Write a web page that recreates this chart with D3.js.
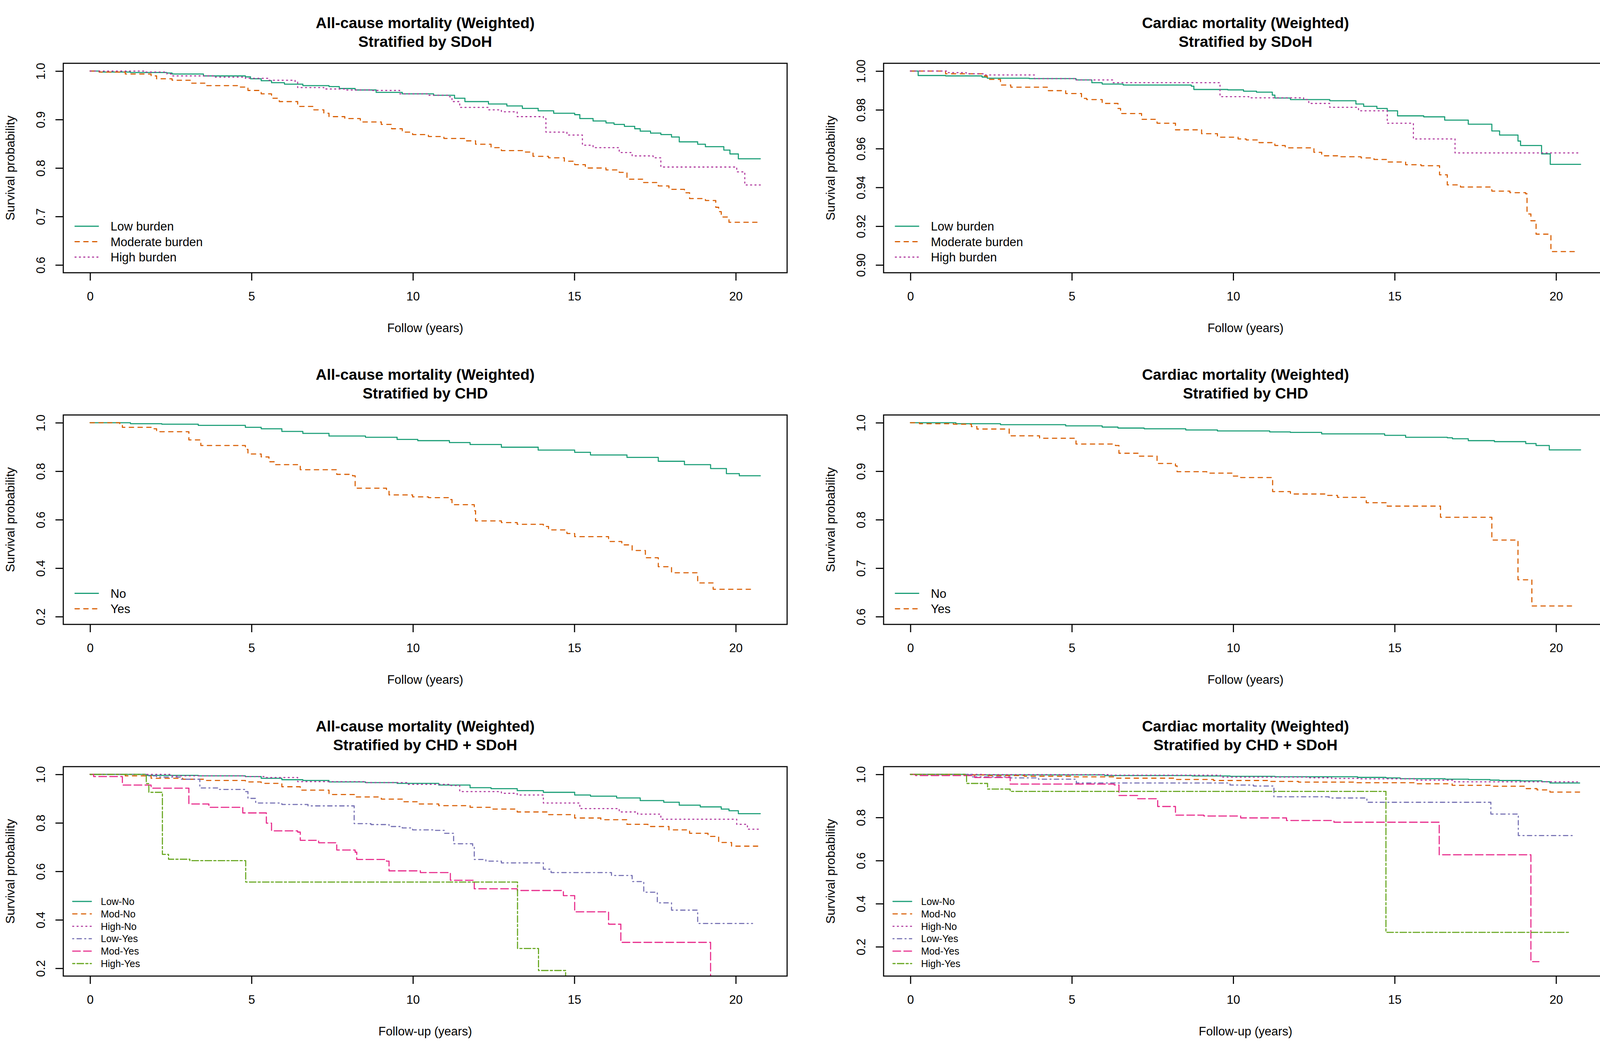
<!DOCTYPE html>
<html>
<head>
<meta charset="utf-8">
<title>Weighted Kaplan-Meier curves</title>
<script src="https://cdnjs.cloudflare.com/ajax/libs/d3/7.8.5/d3.min.js"></script>
<style>
  html, body { margin: 0; background: #fff; }
  svg text { font-family: "Liberation Sans", Arial, sans-serif; fill: #000; }
</style>
</head>
<body>
<svg id="chart" width="4200" height="2700"></svg>
<script>
// step points: [years, survival]
var acSdohLow = [[0,1],[0.28,0.998],[1.25,0.997],[2.38,0.996],[2.54,0.994],[3.51,0.990],[4.81,0.988],[4.97,0.984],[5.30,0.980],[5.62,0.976],[6.02,0.973],[6.59,0.970],[7.40,0.968],[7.72,0.964],[8.21,0.961],[8.86,0.956],[9.67,0.953],[10.64,0.950],[11.29,0.944],[11.61,0.937],[12.34,0.932],[12.91,0.928],[13.39,0.923],[13.88,0.918],[14.36,0.913],[15.01,0.910],[15.17,0.902],[15.58,0.897],[15.98,0.893],[16.23,0.890],[16.55,0.886],[16.87,0.881],[17.04,0.876],[17.36,0.872],[17.68,0.869],[18.01,0.864],[18.25,0.854],[18.82,0.849],[19.06,0.844],[19.63,0.837],[19.82,0.829],[20.08,0.819],[20.76,0.819]];
var acSdohMod = [[0,1],[0.28,0.998],[1.09,0.994],[1.89,0.990],[2.06,0.984],[2.54,0.981],[3.11,0.975],[3.60,0.970],[4.65,0.967],[4.89,0.960],[5.30,0.953],[5.62,0.944],[5.86,0.937],[6.43,0.927],[6.92,0.920],[7.24,0.913],[7.40,0.906],[7.89,0.902],[8.37,0.895],[9.02,0.890],[9.34,0.881],[9.67,0.874],[9.99,0.869],[10.48,0.865],[10.96,0.861],[11.61,0.856],[11.94,0.849],[12.42,0.842],[12.74,0.836],[13.47,0.833],[13.72,0.824],[14.20,0.821],[14.69,0.814],[15.01,0.807],[15.34,0.800],[15.98,0.796],[16.39,0.791],[16.63,0.777],[17.12,0.770],[17.60,0.763],[17.93,0.756],[18.41,0.749],[18.57,0.737],[19.06,0.733],[19.38,0.719],[19.47,0.710],[19.55,0.699],[19.79,0.688],[20.68,0.688]];
var acSdohHigh = [[0,1],[1.73,0.998],[2.38,0.994],[2.54,0.990],[3.84,0.9875],[4.81,0.985],[5.54,0.981],[6.35,0.978],[6.43,0.966],[7.24,0.963],[7.89,0.961],[8.70,0.960],[9.59,0.953],[10.48,0.950],[11.13,0.947],[11.21,0.937],[11.45,0.925],[12.34,0.920],[12.74,0.916],[13.23,0.906],[14.04,0.902],[14.12,0.874],[14.77,0.868],[15.25,0.847],[15.58,0.842],[16.39,0.832],[16.79,0.825],[17.44,0.821],[17.68,0.802],[20.03,0.792],[20.28,0.765],[20.76,0.765]];

var cdSdohLow = [[0,1],[0.24,0.9977],[1.09,0.9975],[2.22,0.9969],[2.38,0.9963],[3.68,0.9961],[5.13,0.9954],[5.62,0.9940],[5.94,0.9933],[6.59,0.9928],[8.70,0.9922],[8.78,0.9905],[9.83,0.9903],[10.32,0.9896],[10.72,0.9891],[11.21,0.9876],[11.29,0.9861],[11.77,0.9853],[12.99,0.9847],[13.80,0.9830],[14.04,0.9818],[14.45,0.9807],[14.77,0.9795],[15.09,0.9769],[15.90,0.9764],[16.55,0.9747],[17.28,0.9726],[18.01,0.9691],[18.25,0.9670],[18.82,0.9639],[18.90,0.9616],[19.55,0.9573],[19.82,0.9519],[20.76,0.9519]];
var cdSdohMod = [[0,1],[1.09,0.9986],[2.22,0.9975],[2.38,0.9957],[2.79,0.9928],[3.11,0.9917],[4.24,0.9899],[4.81,0.9884],[5.30,0.9859],[5.46,0.9853],[5.94,0.9833],[6.43,0.9807],[6.51,0.9781],[7.16,0.9751],[7.64,0.9731],[8.21,0.9697],[9.02,0.9677],[9.51,0.9659],[10.15,0.9650],[10.40,0.9645],[10.80,0.9631],[11.29,0.9616],[11.61,0.9604],[12.50,0.9581],[12.74,0.9563],[13.23,0.9558],[13.96,0.9552],[14.36,0.9544],[14.77,0.9531],[15.34,0.9517],[15.82,0.9512],[16.39,0.9465],[16.63,0.9413],[17.04,0.9402],[18.01,0.9381],[18.57,0.9373],[19.06,0.9367],[19.10,0.9263],[19.22,0.9228],[19.38,0.9159],[19.84,0.9069],[20.68,0.9069]];
var cdSdohHigh = [[0,1],[1.17,0.9992],[1.73,0.9986],[2.30,0.9980],[3.84,0.9961],[5.13,0.9954],[6.27,0.9940],[9.59,0.9868],[10.48,0.9862],[12.18,0.9853],[12.34,0.9833],[12.99,0.9813],[13.88,0.9795],[14.77,0.9731],[15.58,0.9650],[16.87,0.9578],[20.76,0.9578]];

var acChdNo = [[0,1],[1.25,0.996],[2.22,0.994],[3.35,0.989],[4.81,0.981],[5.30,0.975],[5.94,0.964],[6.59,0.956],[7.40,0.945],[8.53,0.940],[9.51,0.931],[10.15,0.926],[11.13,0.918],[11.77,0.910],[12.74,0.899],[13.88,0.887],[15.01,0.878],[15.50,0.867],[16.63,0.857],[17.60,0.841],[18.41,0.827],[19.22,0.811],[19.71,0.790],[20.11,0.781],[20.76,0.781]];
var acChdYes = [[0,1],[0.92,0.994],[1.00,0.981],[1.89,0.975],[2.06,0.963],[3.06,0.929],[3.43,0.906],[4.81,0.890],[4.89,0.871],[5.30,0.859],[5.54,0.839],[5.70,0.827],[6.51,0.806],[7.64,0.787],[8.13,0.781],[8.21,0.730],[9.18,0.723],[9.26,0.702],[9.99,0.694],[10.48,0.691],[11.13,0.683],[11.21,0.662],[11.90,0.637],[11.94,0.595],[12.74,0.588],[13.23,0.581],[14.04,0.572],[14.20,0.558],[14.77,0.543],[15.01,0.530],[16.06,0.510],[16.47,0.496],[16.79,0.473],[17.20,0.443],[17.60,0.406],[18.01,0.381],[18.82,0.339],[19.30,0.313],[20.52,0.313]];

var cdChdNo = [[0,1],[1.41,0.998],[2.79,0.996],[4.81,0.9935],[5.94,0.991],[6.43,0.989],[7.24,0.9875],[8.53,0.985],[9.51,0.983],[11.13,0.981],[11.77,0.980],[12.74,0.977],[14.69,0.974],[15.34,0.970],[16.63,0.969],[16.79,0.967],[17.28,0.963],[18.09,0.961],[19.06,0.957],[19.38,0.953],[19.79,0.944],[20.76,0.944]];
var cdChdYes = [[0,1],[0.28,0.998],[1.33,0.997],[1.89,0.992],[2.06,0.987],[3.06,0.973],[4.00,0.968],[5.13,0.956],[6.35,0.953],[6.46,0.937],[7.08,0.931],[7.64,0.916],[8.21,0.911],[8.26,0.899],[9.18,0.896],[9.99,0.890],[10.23,0.887],[11.22,0.858],[11.77,0.853],[12.91,0.850],[13.23,0.846],[14.12,0.835],[14.77,0.828],[16.42,0.805],[18.01,0.758],[18.82,0.676],[19.25,0.622],[20.60,0.622]];

var acLowNo = [[0,1],[1.73,0.996],[3.35,0.994],[4.81,0.991],[5.30,0.984],[5.94,0.978],[6.59,0.975],[7.40,0.969],[8.53,0.966],[9.51,0.963],[10.80,0.956],[11.77,0.945],[12.42,0.941],[13.23,0.933],[14.04,0.926],[15.01,0.915],[15.50,0.910],[16.31,0.903],[17.04,0.892],[17.77,0.885],[18.25,0.873],[18.90,0.866],[19.55,0.857],[19.79,0.850],[20.08,0.838],[20.76,0.838]];
var acModNo = [[0,1],[1.09,0.994],[1.89,0.984],[2.87,0.980],[3.51,0.975],[4.81,0.969],[5.30,0.963],[5.94,0.949],[6.51,0.935],[7.40,0.917],[8.21,0.907],[9.02,0.898],[9.67,0.887],[10.15,0.878],[10.80,0.871],[11.77,0.864],[12.42,0.857],[13.23,0.845],[14.20,0.834],[15.01,0.820],[15.82,0.813],[16.63,0.794],[17.28,0.785],[17.93,0.771],[18.57,0.757],[19.14,0.744],[19.47,0.719],[19.87,0.704],[20.76,0.704]];
var acHighNo = [[0,1],[2.54,0.994],[4.81,0.991],[5.46,0.987],[6.43,0.970],[8.53,0.966],[9.83,0.959],[11.13,0.954],[11.45,0.929],[12.74,0.922],[13.23,0.915],[14.04,0.882],[15.17,0.859],[16.39,0.845],[16.96,0.836],[17.68,0.815],[20.03,0.794],[20.36,0.774],[20.76,0.774]];
var acLowYes = [[0,1],[1.73,0.994],[2.06,0.989],[2.79,0.980],[3.40,0.944],[4.00,0.938],[4.81,0.929],[4.89,0.901],[5.13,0.882],[5.94,0.876],[6.75,0.870],[8.18,0.797],[8.70,0.793],[9.26,0.785],[9.67,0.779],[9.99,0.771],[10.64,0.769],[10.97,0.757],[11.26,0.714],[11.85,0.706],[11.90,0.649],[12.26,0.642],[12.74,0.635],[14.04,0.609],[14.28,0.595],[16.15,0.583],[16.79,0.558],[17.15,0.514],[17.57,0.470],[18.01,0.440],[18.82,0.385],[20.52,0.385]];
var acModYes = [[0,1],[0.11,0.991],[1.00,0.956],[1.89,0.943],[3.06,0.878],[3.68,0.864],[4.73,0.841],[5.46,0.799],[5.62,0.767],[6.43,0.762],[6.51,0.728],[7.08,0.718],[7.64,0.688],[8.21,0.679],[8.26,0.649],[9.18,0.642],[9.26,0.602],[10.23,0.595],[11.16,0.563],[11.90,0.528],[13.23,0.521],[14.66,0.500],[15.01,0.433],[16.06,0.382],[16.44,0.307],[19.22,0.131],[19.47,0.131]];
var acHighYes = [[0,1],[1.74,0.962],[1.82,0.926],[2.24,0.670],[2.43,0.650],[3.09,0.644],[4.82,0.556],[13.24,0.282],[13.89,0.191],[14.73,0.100],[20.44,0.100]];

var cdLowNo = [[0,1],[1.70,0.9976],[6.02,0.9946],[8.73,0.9927],[9.90,0.9909],[11.29,0.9891],[13.85,0.9861],[14.73,0.9837],[15.17,0.980],[16.56,0.9776],[17.29,0.9758],[17.95,0.9734],[18.24,0.9716],[18.90,0.970],[19.56,0.966],[19.81,0.960],[20.73,0.960]];
var cdModNo = [[0,1],[1.70,0.9976],[2.36,0.9946],[3.53,0.9915],[4.99,0.9885],[6.31,0.9825],[8.21,0.9764],[9.39,0.9716],[11.14,0.9673],[12.02,0.9643],[13.78,0.9613],[15.68,0.9564],[16.78,0.9492],[18.02,0.945],[19.05,0.934],[19.41,0.928],[19.81,0.918],[20.73,0.918]];
var cdHighNo = [[0,1],[2.28,0.9988],[6.16,0.9964],[9.60,0.9873],[12.31,0.9843],[13.05,0.9812],[13.92,0.9794],[15.61,0.9734],[16.85,0.9655],[20.66,0.9655]];
var cdLowYes = [[0,1],[1.92,0.9885],[3.09,0.9837],[3.97,0.9776],[5.14,0.960],[9.90,0.9504],[10.63,0.946],[11.26,0.896],[12.97,0.8905],[14.14,0.8705],[17.98,0.816],[18.83,0.716],[20.51,0.716]];
var cdModYes = [[0,1],[0.16,0.9946],[1.99,0.9855],[3.09,0.955],[6.31,0.951],[6.46,0.902],[7.04,0.887],[7.66,0.851],[8.21,0.811],[9.09,0.807],[10.23,0.798],[11.65,0.786],[13.12,0.778],[16.38,0.627],[19.22,0.131],[19.47,0.131]];
var cdHighYes = [[0,1],[1.74,0.958],[2.39,0.932],[3.09,0.921],[14.73,0.267],[20.44,0.267]];

var titleTop = ["All-cause mortality (Weighted)", "Cardiac mortality (Weighted)"];
var titleSub = ["Stratified by SDoH", "Stratified by CHD", "Stratified by CHD + SDoH"];
var xLabels = ["Follow (years)", "Follow (years)", "Follow-up (years)"];
var yLabel = "Survival probability";
var xTicks = [0, 5, 10, 15, 20];
var xMax = 20.76;
var yMins = [0.6, 0.9, 0.2, 0.6, 0.2, 0.1];
var yTicks = [
  [0.6, 0.7, 0.8, 0.9, 1.0],
  [0.90, 0.92, 0.94, 0.96, 0.98, 1.00],
  [0.2, 0.4, 0.6, 0.8, 1.0],
  [0.6, 0.7, 0.8, 0.9, 1.0],
  [0.2, 0.4, 0.6, 0.8, 1.0],
  [0.2, 0.4, 0.6, 0.8, 1.0]
];
var yDigits = [1, 2, 1, 1, 1, 1];
var sdohLabels = ["Low burden", "Moderate burden", "High burden"];
var chdLabels = ["No", "Yes"];
var comboLabels = ["Low-No", "Mod-No", "High-No", "Low-Yes", "Mod-Yes", "High-Yes"];

var panelSeries = [
  [acSdohLow, acSdohMod, acSdohHigh],
  [cdSdohLow, cdSdohMod, cdSdohHigh],
  [acChdNo, acChdYes],
  [cdChdNo, cdChdYes],
  [acLowNo, acModNo, acHighNo, acLowYes, acModYes, acHighYes],
  [cdLowNo, cdModNo, cdHighNo, cdLowYes, cdModYes, cdHighYes]
];
var panelLabels = [sdohLabels, sdohLabels, chdLabels, chdLabels, comboLabels, comboLabels];

// look
var colors = ["#1B9E77", "#D95F02", "#B0399E", "#7570B3", "#E7298A", "#66A61E"];
var ltys = ["solid", "dashed", "dotted", "dotdash", "longdash", "twodash"];
var dashUnits = {solid: null, dashed: [4,4], dotted: [1,3], dotdash: [1,3,4,3], longdash: [7,3], twodash: [2,2,6,2]};
var lwd = 2.8;
var panelW = 2100, panelH = 900;
var box = {left: 162, top: 162, width: 1853, height: 536};
var legendBig = {font: 31, gap: 39.5, bottom: 658, x0: 192, x1: 252, tx: 283};
var legendSmall = {font: 25, gap: 31.8, bottom: 666, x0: 186, x1: 234, tx: 258};

var svg = d3.select("#chart");

// R-style lty: dash lengths are multiples of the line width
function dash(lty) {
  var u = dashUnits[lty];
  return u ? u.map(function (v) { return v * lwd; }).join(",") : null;
}

panelSeries.forEach(function (series, i) {
  var col = i % 2, row = Math.floor(i / 2);
  var g = svg.append("g").attr("transform", "translate(" + (col * panelW) + "," + (row * panelH) + ")");

  // 4% padding on both axes, like R's default xaxs/yaxs
  var x = d3.scaleLinear()
    .domain([-0.04 * xMax, 1.04 * xMax])
    .range([box.left, box.left + box.width]);
  var span = 1 - yMins[i];
  var y = d3.scaleLinear()
    .domain([yMins[i] - 0.04 * span, 1 + 0.04 * span])
    .range([box.top + box.height, box.top]);

  // titles
  var cx = box.left + box.width / 2;
  g.append("text").attr("x", cx).attr("y", 72).attr("text-anchor", "middle")
    .style("font-size", "39px").style("font-weight", "bold").text(titleTop[col]);
  g.append("text").attr("x", cx).attr("y", 120).attr("text-anchor", "middle")
    .style("font-size", "39px").style("font-weight", "bold").text(titleSub[row]);

  // curves
  g.append("clipPath").attr("id", "clip" + i)
    .append("rect").attr("x", box.left).attr("y", box.top)
    .attr("width", box.width).attr("height", box.height);

  var line = d3.line()
    .x(function (d) { return x(d[0]); })
    .y(function (d) { return y(d[1]); })
    .curve(d3.curveStepAfter);

  g.append("g").attr("clip-path", "url(#clip" + i + ")")
    .selectAll("path").data(series).enter().append("path")
    .attr("d", line)
    .attr("fill", "none")
    .attr("stroke", function (d, j) { return colors[j]; })
    .attr("stroke-width", lwd)
    .attr("stroke-linecap", "round")
    .attr("stroke-linejoin", "round")
    .attr("stroke-dasharray", function (d, j) { return dash(ltys[j]); });

  // axes
  var xAxis = g.append("g").attr("transform", "translate(0," + (box.top + box.height) + ")")
    .call(d3.axisBottom(x).tickValues(xTicks).tickSize(20).tickPadding(29).tickFormat(d3.format("d")));
  xAxis.select(".domain").remove();
  xAxis.selectAll("line").attr("stroke", "#000").attr("stroke-width", lwd);
  xAxis.selectAll("text").style("font-size", "31px").attr("fill", "#000");

  var yAxis = g.append("g").attr("transform", "translate(" + box.left + ",0)")
    .call(d3.axisLeft(y).tickValues(yTicks[i]).tickSize(20).tickFormat(d3.format("." + yDigits[i] + "f")));
  yAxis.select(".domain").remove();
  yAxis.selectAll("line").attr("stroke", "#000").attr("stroke-width", lwd);
  yAxis.selectAll("text")
    .attr("x", 0).attr("y", 0).attr("dy", null)
    .attr("text-anchor", "middle")
    .attr("transform", "translate(-47,0) rotate(-90)")
    .style("font-size", "31px").attr("fill", "#000");

  g.append("rect").attr("x", box.left).attr("y", box.top)
    .attr("width", box.width).attr("height", box.height)
    .attr("fill", "none").attr("stroke", "#000").attr("stroke-width", lwd);

  // axis titles
  g.append("text").attr("x", cx).attr("y", 850).attr("text-anchor", "middle")
    .style("font-size", "31px").text(xLabels[row]);
  g.append("text").attr("text-anchor", "middle")
    .attr("transform", "translate(37," + (box.top + box.height / 2) + ") rotate(-90)")
    .style("font-size", "32px").text(yLabel);

  // legend, bottom-left inside the box
  var labels = panelLabels[i];
  var L = labels.length === 6 ? legendSmall : legendBig;
  var n = labels.length;
  var leg = g.append("g").selectAll("g").data(labels).enter().append("g")
    .attr("transform", function (d, j) { return "translate(0," + (L.bottom - (n - 1 - j) * L.gap) + ")"; });
  leg.append("line")
    .attr("x1", L.x0).attr("x2", L.x1).attr("y1", 0).attr("y2", 0)
    .attr("stroke", function (d, j) { return colors[j]; })
    .attr("stroke-width", lwd)
    .attr("stroke-linecap", "round")
    .attr("stroke-dasharray", function (d, j) { return dash(ltys[j]); });
  leg.append("text").attr("x", L.tx).attr("y", L.font * 0.36)
    .style("font-size", L.font + "px").text(function (d) { return d; });
});
</script>
</body>
</html>
